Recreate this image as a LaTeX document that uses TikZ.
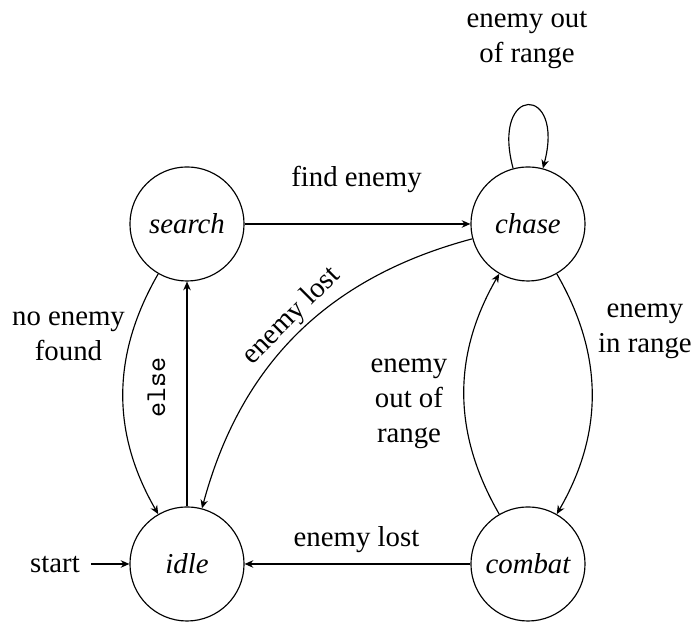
\documentclass[tikz,border=0pt]{standalone}
\usepackage{fontspec}
\setmainfont{Liberation Serif}
\usetikzlibrary{arrows.meta,automata}
\begin{document}
\begin{tikzpicture}[x=0.3472pt,y=0.3472pt, line width=0.4pt,
  >={Stealth[length=3pt,width=2.6pt]},
  st/.style={circle,draw,minimum size=39.6pt,inner sep=0pt,font=\itshape},
  lbl/.style={align=center,anchor=base,inner sep=0pt,font=\fontsize{10}{12.3}\selectfont}]
\useasboundingbox (0,0) rectangle (694,624);

% states
\node[st] (search) at (187,400) {search};
\node[st] (chase)  at (528,400) {chase};
\node[st] (idle)   at (187,60)  {idle};
\node[st] (combat) at (528,60)  {combat};

% transition labels (anchored at the baseline of their last line)
\node[lbl] (lfind)   at (356.5,437) {find enemy};
\node[lbl] (lloop)   at (527,561)   {enemy out\\of range};
\node[lbl] (lnone)   at (68.5,263)  {no enemy\\found};
\node[lbl] (lin)     at (645,271)   {enemy\\in range};
\node[lbl] (lout)    at (409,181)   {enemy\\out of\\range};
\node[lbl] (llost)   at (356.5,77)  {enemy lost};
\node[lbl] (lstart)  at (55,51)     {start};
\node[inner sep=0pt, rotate=45] (lchase) at (292,308) {enemy lost};
\coordinate (s0) at (91,60);

% transitions
\draw[->] (s0) -- (idle);
\draw[->] (search) -- (chase);
\draw[->] (chase) to[loop above, looseness=7.5] (chase);
\draw[->] (chase) to[bend left=30] (combat);
\draw[->] (combat) to[bend left=30] (chase);
\draw[->] (combat) -- (idle);
\draw[->] (search) to[bend right=30] (idle);
\draw[->] (idle) -- node[sloped, above=7.3pt, pos=0.53, inner sep=0pt] {\ttfamily else} (search);
\draw[->] (chase) to[bend right=30] (idle);
\end{tikzpicture}
\end{document}
